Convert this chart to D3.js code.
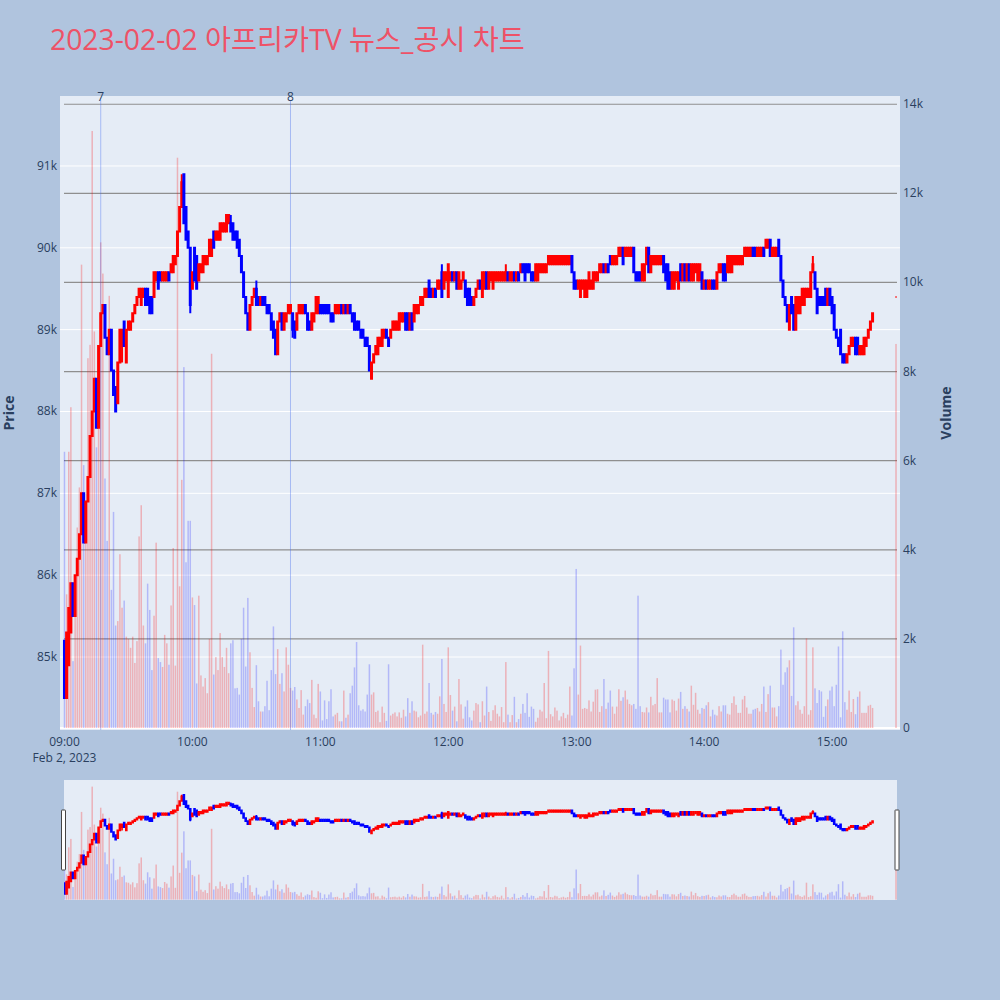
<!DOCTYPE html>
<html><head><meta charset="utf-8">
<script src="https://cdn.jsdelivr.net/npm/d3@7"></script>
<style>
body{margin:0;background:#B0C4DE;}
svg{display:block;font-family:"Open Sans","Noto Sans CJK KR",sans-serif;}
</style>
</head><body><svg id="c" width="1000" height="1000"></svg>
<script>
// ---- DATA (prices in units of 100 KRW, volume in thousands of shares) ----
const titleText = "2023-02-02 아프리카TV 뉴스_공시 차트";
const sessionStart = "2023-02-02T09:00:00";
const closingAuction = "2023-02-02T15:30:00";
const openP = [
852,845,849,853,859,855,860,862,865,870,864,869,872,877,880,884,878,888,892,893,
889,887,890,885,883,881,886,888,891,886,890,890,891,892,893,894,893,894,895,895,
894,894,894,896,897,897,896,896,896,897,897,897,898,899,902,905,909,905,902,900,
895,900,899,896,897,897,898,898,899,899,902,901,901,901,902,902,902,903,903,903,
902,902,901,899,897,894,892,890,893,894,895,894,893,894,894,893,893,892,891,890,
887,891,892,890,891,892,892,892,891,890,892,892,892,893,892,891,890,891,892,892,
893,893,893,893,893,892,892,892,892,892,893,892,893,892,893,892,892,891,891,890,
890,889,889,888,884,886,887,887,888,888,889,890,889,889,890,890,890,890,891,891,
892,892,890,892,891,892,892,893,893,894,894,896,895,894,895,895,895,897,895,896,
894,896,897,896,897,895,895,896,896,895,895,894,893,894,895,896,894,895,897,895,
896,895,896,896,896,896,896,896,897,896,896,897,896,897,897,898,898,898,898,897,
897,896,896,897,897,897,897,898,898,898,898,898,898,898,898,898,898,898,899,897,
896,895,894,895,894,894,895,895,895,896,896,897,897,898,897,898,899,898,898,898,
899,899,900,899,899,899,899,900,897,897,897,896,896,898,900,897,898,898,898,898,
898,899,898,898,897,895,895,896,895,898,896,898,896,898,896,896,897,896,896,897,
895,896,895,895,896,896,895,897,897,898,898,897,897,897,898,898,898,898,898,899,
899,899,899,900,900,899,899,899,900,900,900,901,899,899,899,901,899,896,894,893,
890,894,893,890,892,892,893,893,894,894,894,897,897,895,894,894,894,895,893,895,
894,893,890,889,890,887,887,886,887,888,888,889,889,887,887,887,888,889,890,891
];
const closeP = [
845,853,856,859,855,860,862,865,870,864,869,872,877,880,884,878,888,892,893,889,
887,890,885,882,880,886,890,890,888,890,891,891,892,893,894,895,895,895,893,893,
892,892,897,897,895,896,897,897,897,896,898,899,899,902,905,908,903,901,900,893,
897,896,895,898,898,899,899,899,901,901,900,902,902,903,903,903,904,904,902,901,
901,900,899,897,894,892,890,893,894,895,893,893,894,893,893,892,892,890,889,887,
891,892,890,892,892,893,893,890,889,892,893,893,893,892,890,890,892,892,894,894,
892,892,892,892,892,891,891,893,893,893,892,893,892,893,892,891,890,890,890,889,
889,888,888,885,886,887,888,889,889,890,890,889,888,890,891,891,891,892,892,892,
890,890,892,890,893,893,893,894,894,895,895,894,894,895,894,896,896,894,897,897,
898,897,896,897,895,897,896,897,894,893,893,893,894,895,896,895,897,897,895,897,
897,897,897,897,897,897,897,897,896,897,897,896,897,896,898,897,896,897,897,896,
896,898,898,898,898,898,898,899,899,899,899,899,899,899,899,899,899,899,897,895,
895,896,896,896,896,896,897,896,897,897,897,898,898,897,898,897,898,899,899,899,
900,900,898,900,900,900,900,897,896,896,896,898,898,900,897,899,899,899,899,899,
899,897,896,895,895,897,897,897,897,896,898,896,898,896,898,898,898,898,898,895,
896,895,896,896,895,895,897,898,898,896,896,899,899,899,899,899,899,899,899,900,
900,900,900,899,899,900,900,900,899,901,901,899,900,900,900,899,896,894,893,891,
893,892,890,894,894,894,895,895,895,895,897,898,895,892,893,893,893,893,895,893,
892,890,889,888,887,886,886,887,888,889,889,887,887,888,888,889,889,890,891,892
];
const highWicks = [[55,909],[77,904],[78,904],[90,896],[177,898],[207,898],[335,901],[351,899]];
const lowWicks = [[27,886],[59,892],[107,889]];
const volumeK = [
6.2,3.0,6.2,7.2,1.5,3.0,4.5,5.4,10.4,5.9,4.5,8.3,8.6,13.4,8.9,6.3,7.0,10.9,10.2,
5.6,4.2,9.7,3.1,4.85,2.3,2.4,3.9,2.7,2.86,2.05,2.0,1.8,2.05,1.46,1.95,4.3,5.0,2.3,1.9,3.24,2.65,
1.3,2.52,4.16,1.57,1.48,1.37,2.09,1.9,1.42,2.75,4.04,1.4,12.8,3.18,5.57,8.1,3.72,4.65,4.65,2.93,
2.76,1.0,2.97,1.18,0.93,1.12,0.78,2.0,8.4,1.2,1.59,1.3,2.13,1.59,1.37,1.8,1.23,1.9,1.97,0.89,
0.9,0.75,2.0,2.7,1.38,2.92,1.7,0.9,0.47,1.41,0.6,0.37,0.37,0.49,1.06,0.4,1.3,2.28,1.21,1.77,
0.99,1.23,0.82,1.81,1.42,0.9,0.84,0.92,0.64,0.45,0.85,0.3,0.49,0.64,0.56,1.08,0.3,0.22,0.99,0.82,
0.17,0.62,0.2,0.6,0.87,0.26,0.3,0.34,0.15,0.15,0.84,0.23,0.3,0.78,0.95,1.36,1.93,0.51,0.39,0.42,
0.37,0.75,1.43,0.75,0.8,0.36,0.39,0.13,0.48,0.34,0.16,1.43,0.28,0.32,0.35,0.26,0.35,0.23,0.41,0.26,
0.67,0.34,0.6,0.39,0.37,0.24,0.28,1.87,0.32,0.37,1.01,0.34,0.3,0.36,0.32,0.71,1.55,0.54,0.36,1.81,
0.74,0.39,0.48,0.15,1.1,0.53,0.21,0.48,0.62,0.24,0.17,0.39,0.56,0.53,0.13,0.6,0.28,0.93,0.36,0.16,
0.4,0.51,0.32,0.26,0.47,0.13,1.48,0.3,0.13,0.29,0.7,0.13,0.2,0.32,0.54,0.34,0.78,0.25,0.48,0.43,
0.14,0.23,0.41,0.37,1.01,0.22,1.73,0.31,0.26,0.46,0.39,0.17,0.26,0.34,0.22,0.3,0.93,0.28,1.34,3.57,
0.75,1.85,0.43,0.45,0.43,0.62,0.37,0.59,0.86,0.87,0.36,0.49,1.1,0.43,0.57,0.84,0.48,0.32,0.48,0.87,
0.61,0.69,0.84,0.64,0.54,0.51,0.54,0.43,2.97,0.49,0.36,0.35,0.46,0.35,0.7,0.51,0.54,1.12,0.35,0.35,
0.68,0.64,0.64,0.35,0.64,0.61,0.39,0.66,0.81,0.43,0.49,0.43,0.37,0.95,0.52,0.79,0.41,0.32,0.45,0.43,
0.51,0.58,0.26,0.41,0.3,0.28,0.49,0.37,0.51,0.51,0.32,0.3,0.56,0.71,0.52,0.34,0.34,0.64,0.72,0.46,
0.32,0.32,0.41,0.43,0.45,0.37,0.54,0.93,0.36,0.76,0.95,0.46,0.46,0.26,0.49,1.76,0.97,1.25,1.36,1.52,
0.72,2.26,0.51,0.6,0.41,0.32,0.49,2.01,0.3,0.4,1.81,0.89,0.56,0.85,0.82,0.25,0.49,0.64,0.84,0.93,
0.49,0.97,1.83,0.24,2.17,0.58,0.41,0.84,0.36,0.65,0.31,0.7,0.82,0.34,0.34,0.34,0.5,0.52,0.45
];
const closeAuctionPrice = 894;
const closeAuctionVolumeK = 8.62;
const newsTimes = ["2023-02-02T09:17:00","2023-02-02T10:46:00"];
const newsLabels = ["7","8"];
const priceTicks = [85000,86000,87000,88000,89000,90000,91000];
const volumeTicks = [0,2000,4000,6000,8000,10000,12000,14000];
const hourTicks = ["09:00","10:00","11:00","12:00","13:00","14:00","15:00"];

// ---- build records ----
const t0 = new Date(sessionStart).getTime();
const n = Math.min(openP.length, closeP.length, volumeK.length);
const hiMap = new Map(highWicks), loMap = new Map(lowWicks);
const candles = [];
for (let i = 0; i < n; i++) {
  const o = openP[i]*100, c = closeP[i]*100;
  let h = Math.max(o, c), l = Math.min(o, c);
  if (hiMap.has(i)) h = Math.max(h, hiMap.get(i)*100);
  if (loMap.has(i)) l = Math.min(l, loMap.get(i)*100);
  candles.push({t: new Date(t0 + i*60000), o, c, h, l, v: volumeK[i]*1000});
}
candles.push({t: new Date(closingAuction), o: closeAuctionPrice*100, c: closeAuctionPrice*100,
  h: closeAuctionPrice*100, l: closeAuctionPrice*100, v: closeAuctionVolumeK*1000});

// ---- layout ----
const svg = d3.select("#c");
const P = {l:60, r:900, t:96, b:730};
const S = {l:64, r:897, t:780, b:900};
const txt = "#2a3f5f";
const x = d3.scaleTime()
  .domain([new Date("2023-02-02T08:57:54"), new Date("2023-02-02T15:31:52")])
  .range([P.l, P.r]);
const yP = d3.scaleLinear().domain([84108, 91855]).range([P.b, P.t]);
const yV = d3.scaleLinear().domain([-45, 14185]).range([P.b, P.t]);
const ySP = d3.scaleLinear().domain([84108, 91855]).range([S.b, S.t]);
const ySV = d3.scaleLinear().domain([-45, 14185]).range([S.b, S.t]);
const up = "#ff0000", dn = "#0000ff";
const colOf = d => d.c >= d.o ? up : dn;
const volCol = d => d.c >= d.o ? "rgba(255,0,0,0.25)" : "rgba(0,0,255,0.22)";

// title
svg.append("text").attr("x",50).attr("y",50).attr("font-size",28.3)
  .attr("fill","#EE5267").text(titleText);

// plot background
svg.append("rect").attr("x",P.l).attr("y",P.t).attr("width",P.r-P.l).attr("height",P.b-P.t).attr("fill","#E5ECF6");
const defs = svg.append("defs");
defs.append("clipPath").attr("id","pc").append("rect").attr("x",P.l).attr("y",P.t).attr("width",P.r-P.l).attr("height",P.b-P.t);
defs.append("clipPath").attr("id","sc").append("rect").attr("x",S.l).attr("y",S.t).attr("width",S.r-S.l).attr("height",S.b-S.t);

// price grid (white)
svg.append("g").selectAll("line").data(priceTicks).join("line")
  .attr("x1",P.l).attr("x2",P.r).attr("y1",d=>yP(d)).attr("y2",d=>yP(d))
  .attr("stroke","#fff").attr("stroke-width",1);
// volume zero line
svg.append("line").attr("x1",P.l).attr("x2",P.r).attr("y1",yV(0)).attr("y2",yV(0)).attr("stroke","#fff").attr("stroke-width",2);
// volume grid (gray)
svg.append("g").selectAll("line").data(volumeTicks.filter(d=>d>0)).join("line")
  .attr("x1",P.l+4).attr("x2",P.r-3).attr("y1",d=>yV(d)).attr("y2",d=>yV(d))
  .attr("stroke","#8f8f8f").attr("stroke-width",1.2);

const main = svg.append("g").attr("clip-path","url(#pc)");
// volume bars
main.append("g").selectAll("rect").data(candles).join("rect")
  .attr("x",d=>x(d.t)-0.75).attr("width",1.5)
  .attr("y",d=>yV(d.v)).attr("height",d=>yV(0)-yV(d.v))
  .attr("fill",volCol);

function drawCandles(g, yS, bw, sw) {
  g.selectAll("path").data(candles).join("path")
    .attr("d", d => {
      const cx = x(d.t), top = yS(Math.max(d.o,d.c)), bot = yS(Math.min(d.o,d.c));
      return `M${cx},${yS(d.h)}V${top}M${cx-bw},${top}H${cx+bw}V${bot}H${cx-bw}ZM${cx},${bot}V${yS(d.l)}`;
    })
    .attr("fill", colOf).attr("stroke", colOf).attr("stroke-width",sw);
}
// news markers
const nx = newsTimes.map(t => x(new Date(t)));
main.append("g").selectAll("line").data(nx).join("line")
  .attr("x1",d=>d).attr("x2",d=>d).attr("y1",100).attr("y2",P.b)
  .attr("stroke","rgba(70,110,240,0.4)").attr("stroke-width",1);
drawCandles(main.append("g"), yP, 0.5, 2);
svg.append("g").selectAll("text").data(nx).join("text")
  .attr("x",d=>d).attr("y",101).attr("text-anchor","middle").attr("font-size",12)
  .attr("fill",txt).text((d,i)=>newsLabels[i]);

// axes labels
svg.append("g").selectAll("text").data(priceTicks).join("text")
  .attr("x",57).attr("y",d=>yP(d)+4).attr("text-anchor","end").attr("font-size",12)
  .attr("fill",txt).text(d=>d/1000+"k");
svg.append("g").selectAll("text").data(volumeTicks).join("text")
  .attr("x",903).attr("y",d=>yV(d)+4).attr("text-anchor","start").attr("font-size",12)
  .attr("fill",txt).text(d=>d===0?"0":d/1000+"k");
const parseHM = d3.timeParse("%Y-%m-%d %H:%M");
svg.append("g").selectAll("text").data(hourTicks).join("text")
  .attr("x",d=>x(parseHM("2023-02-02 "+d))).attr("y",746).attr("text-anchor","middle")
  .attr("font-size",12).attr("fill",txt).text(d=>d);
svg.append("text").attr("x",x(parseHM("2023-02-02 09:00"))).attr("y",762).attr("text-anchor","middle")
  .attr("font-size",12).attr("fill",txt).text("Feb 2, 2023");
svg.append("text").attr("transform",`translate(14,${(P.t+P.b)/2}) rotate(-90)`)
  .attr("text-anchor","middle").attr("font-size",14).attr("font-weight","bold").attr("fill",txt).text("Price");
svg.append("text").attr("transform",`translate(951,${(P.t+P.b)/2}) rotate(-90)`)
  .attr("text-anchor","middle").attr("font-size",14).attr("font-weight","bold").attr("fill",txt).text("Volume");

// range slider
svg.append("rect").attr("x",S.l).attr("y",S.t).attr("width",S.r-S.l).attr("height",S.b-S.t).attr("fill","#E5ECF6");
const sl = svg.append("g").attr("clip-path","url(#sc)");
sl.append("g").selectAll("rect").data(candles).join("rect")
  .attr("x",d=>x(d.t)-0.75).attr("width",1.5)
  .attr("y",d=>ySV(d.v)).attr("height",d=>ySV(0)-ySV(d.v))
  .attr("fill",volCol);
drawCandles(sl.append("g"), ySP, 0.5, 1.6);
[[61.5,810],[895,810]].forEach(([hx,hy]) => {
  svg.append("rect").attr("x",hx).attr("y",hy).attr("width",4).attr("height",60)
    .attr("fill","#fff").attr("stroke","#444").attr("stroke-width",1).attr("rx",0.5);
});
</script>
</body></html>
